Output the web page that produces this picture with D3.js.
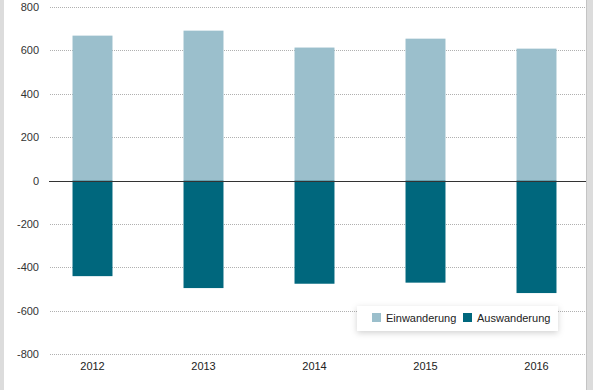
<!DOCTYPE html>
<html><head><meta charset="utf-8">
<script src="https://cdn.jsdelivr.net/npm/d3@7"></script>
<style>
html,body{margin:0;padding:0;background:#fff;}
svg{display:block;font-family:"Liberation Sans",Arial,Helvetica,sans-serif;}
</style></head>
<body><svg id="c" width="593" height="390"></svg>
<script>
const years = ["2012","2013","2014","2015","2016"];
const einwanderung = [668, 691, 613, 654, 608];
const auswanderung = [-441, -496, -476, -471, -519];
const yTicks = [800, 600, 400, 200, 0, -200, -400, -600, -800];
const seriesNames = ["Einwanderung", "Auswanderung"];
const colors = ["#9bbfcc", "#00677d"];

const svg = d3.select("#c");
const W = 593, H = 390;
// frame strips
svg.append("rect").attr("x",0).attr("y",0).attr("width",4).attr("height",H).attr("fill","#dcdcdc");
svg.append("rect").attr("x",586).attr("y",0).attr("width",7).attr("height",H).attr("fill","#dcdcdc");
svg.append("line").attr("x1",586.5).attr("x2",586.5).attr("y1",0).attr("y2",H).attr("stroke","#c4c4c4");

const y = d3.scaleLinear().domain([-800, 800]).range([354, 7]);
const x = d3.scaleBand().domain(years).range([37, 592]).paddingInner(0.64).paddingOuter(0.32);

// gridlines
const grid = svg.append("g");
grid.selectAll("line").data(yTicks.filter(t => t !== 0)).join("line")
  .attr("x1", 50).attr("x2", 586)
  .attr("y1", d => Math.round(y(d)) + 0.5).attr("y2", d => Math.round(y(d)) + 0.5)
  .attr("stroke", "#b0b0b0").attr("stroke-width", 1).attr("stroke-dasharray", "1,1");

// y axis labels
const yAxis = d3.axisLeft(y).tickValues(yTicks).tickSize(0).tickPadding(0).tickFormat(d => String(d));
const ga = svg.append("g").attr("transform", "translate(39,0)").call(yAxis);
ga.select(".domain").remove();
ga.selectAll("text").attr("font-size", 11).attr("fill", "#333").attr("font-family", "Liberation Sans, Arial, sans-serif");

// bars
svg.append("g").selectAll("rect").data(years).join("rect")
  .attr("x", d => x(d)).attr("width", x.bandwidth())
  .attr("y", (d, i) => y(einwanderung[i])).attr("height", (d, i) => y(0) - y(einwanderung[i]))
  .attr("fill", colors[0]);
svg.append("g").selectAll("rect").data(years).join("rect")
  .attr("x", d => x(d)).attr("width", x.bandwidth())
  .attr("y", y(0)).attr("height", (d, i) => y(auswanderung[i]) - y(0))
  .attr("fill", colors[1]);

// zero line
svg.append("line").attr("x1", 49).attr("x2", 586)
  .attr("y1", Math.round(y(0)) + 0.5).attr("y2", Math.round(y(0)) + 0.5)
  .attr("stroke", "#333").attr("stroke-width", 1);

// x axis labels
const xAxis = d3.axisBottom(x).tickSize(0).tickPadding(0);
const gx = svg.append("g").attr("transform", "translate(0,362)").call(xAxis);
gx.select(".domain").remove();
gx.selectAll("text").attr("font-size", 11).attr("fill", "#222").attr("font-family", "Liberation Sans, Arial, sans-serif");

// legend
const defs = svg.append("defs");
const f = defs.append("filter").attr("id", "sh").attr("x", "-20%").attr("y", "-50%").attr("width", "140%").attr("height", "220%");
f.append("feDropShadow").attr("dx", 0).attr("dy", 2).attr("stdDeviation", 3).attr("flood-color", "#000").attr("flood-opacity", 0.18);
const lg = svg.append("g").attr("transform", "translate(357,306)");
lg.append("rect").attr("width", 201).attr("height", 25).attr("fill", "#fff").attr("filter", "url(#sh)");
const offs = [15, 106];
seriesNames.forEach((n, i) => {
  lg.append("rect").attr("x", offs[i]).attr("y", 7).attr("width", 9).attr("height", 9).attr("fill", colors[i]);
  lg.append("text").attr("x", offs[i] + 14).attr("y", 16).attr("font-size", 11).attr("fill", "#222").text(n);
});
</script></body></html>
